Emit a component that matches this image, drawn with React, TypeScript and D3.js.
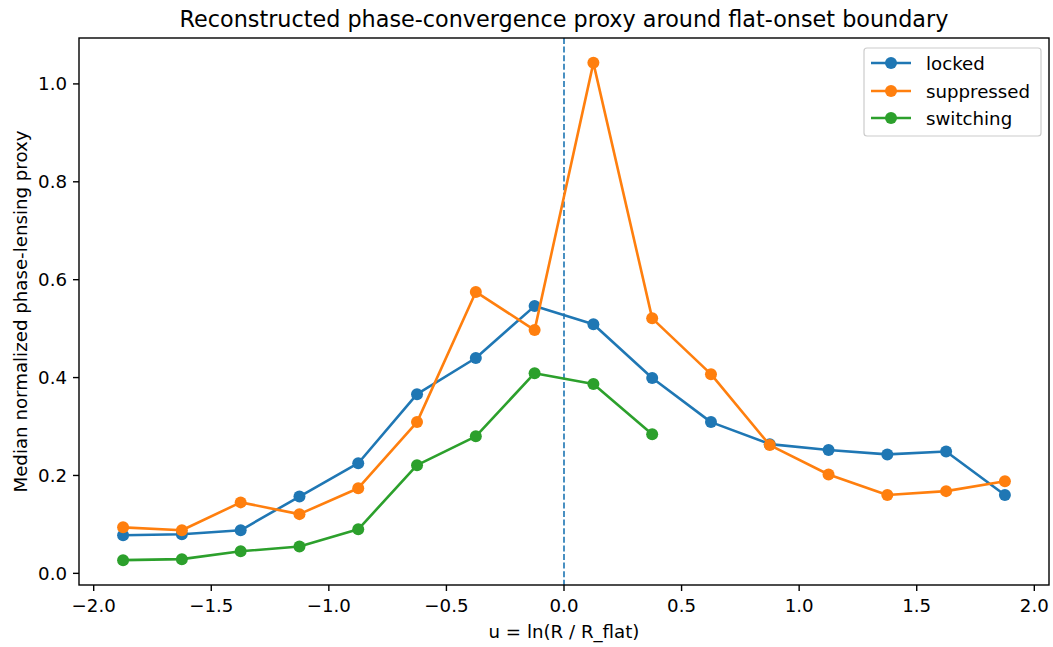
import React from "react";
import * as d3 from "d3";

// Bin centres in u = ln(R / R_flat)
const uCenters = [-1.875, -1.625, -1.375, -1.125, -0.875, -0.625, -0.375, -0.125, 0.125, 0.375, 0.625, 0.875, 1.125, 1.375, 1.625, 1.875];

const lockedValues = [0.078, 0.080, 0.088, 0.157, 0.225, 0.366, 0.440, 0.546, 0.509, 0.399, 0.309, 0.264, 0.252, 0.243, 0.249, 0.160];
const suppressedValues = [0.094, 0.088, 0.145, 0.121, 0.174, 0.309, 0.575, 0.497, 1.043, 0.521, 0.407, 0.262, 0.202, 0.160, 0.168, 0.188];
const switchingValues = [0.027, 0.029, 0.045, 0.055, 0.090, 0.221, 0.280, 0.409, 0.387, 0.284];

const seriesNames = ["locked", "suppressed", "switching"];
const seriesColors = ["#1f77b4", "#ff7f0e", "#2ca02c"];

const xTicks = [-2.0, -1.5, -1.0, -0.5, 0.0, 0.5, 1.0, 1.5, 2.0];
const yTicks = [0.0, 0.2, 0.4, 0.6, 0.8, 1.0];

const W = 1053;
const H = 647;
const M = { left: 79, right: 4, top: 38, bottom: 62 };
const FONT = "DejaVu Sans, sans-serif";
const TICK_FS = 18.2;
const TITLE_FS = 22.3;

export default function App() {
  const series = [lockedValues, suppressedValues, switchingValues];
  const allVals = series.flat();
  const yMin = d3.min(allVals)!;
  const yMax = d3.max(allVals)!;
  const yPad = (yMax - yMin) * 0.05;
  const xPad = (uCenters[uCenters.length - 1] - uCenters[0]) * 0.05;

  const x = d3
    .scaleLinear()
    .domain([uCenters[0] - xPad, uCenters[uCenters.length - 1] + xPad])
    .range([M.left, W - M.right]);
  const y = d3
    .scaleLinear()
    .domain([yMin - yPad, yMax + yPad])
    .range([H - M.bottom, M.top]);

  const line = d3
    .line<[number, number]>()
    .x((d) => x(d[0]))
    .y((d) => y(d[1]));

  const plotW = W - M.left - M.right;
  const plotH = H - M.top - M.bottom;

  const legX = 864;
  const legY = 48;
  const legRows = [63, 91, 118];

  return (
    <svg
      width={W}
      height={H}
      style={{ position: "absolute", left: 0, top: 0, background: "#fff" }}
      fontFamily={FONT}
    >
      <rect x={0} y={0} width={W} height={H} fill="#fff" />
      <text x={M.left + plotW / 2} y={27} textAnchor="middle" fontSize={TITLE_FS} fill="#000">
        Reconstructed phase-convergence proxy around flat-onset boundary
      </text>

      {/* reference boundary at u = 0 */}
      <line
        x1={x(0)}
        x2={x(0)}
        y1={M.top}
        y2={H - M.bottom}
        stroke="#1f77b4"
        strokeOpacity={0.9}
        strokeWidth={1.8}
        strokeDasharray="6,2.6"
      />

      {series.map((vals, i) => {
        const pts = vals.map((v, j) => [uCenters[j], v] as [number, number]);
        return (
          <g key={seriesNames[i]}>
            <path d={line(pts)!} fill="none" stroke={seriesColors[i]} strokeWidth={2.6} strokeLinejoin="round" />
            {pts.map((p, j) => (
              <circle key={j} cx={x(p[0])} cy={y(p[1])} r={6} fill={seriesColors[i]} />
            ))}
          </g>
        );
      })}

      {/* axes frame */}
      <rect x={M.left} y={M.top} width={plotW} height={plotH} fill="none" stroke="#000" strokeWidth={1.4} />

      {xTicks.map((t) => (
        <g key={t}>
          <line x1={x(t)} x2={x(t)} y1={H - M.bottom} y2={H - M.bottom + 6} stroke="#000" strokeWidth={1.4} />
          <text x={x(t)} y={H - M.bottom + 27} textAnchor="middle" fontSize={TICK_FS} fill="#000">
            {t < 0 ? "\u2212" + Math.abs(t).toFixed(1) : t.toFixed(1)}
          </text>
        </g>
      ))}
      {yTicks.map((t) => (
        <g key={t}>
          <line x1={M.left - 6} x2={M.left} y1={y(t)} y2={y(t)} stroke="#000" strokeWidth={1.4} />
          <text x={M.left - 12} y={y(t) + 6.5} textAnchor="end" fontSize={TICK_FS} fill="#000">
            {t.toFixed(1)}
          </text>
        </g>
      ))}

      <text x={M.left + plotW / 2} y={638} textAnchor="middle" fontSize={TICK_FS} fill="#000">
        u = ln(R / R_flat)
      </text>
      <text
        transform={`translate(27, ${M.top + plotH / 2}) rotate(-90)`}
        textAnchor="middle"
        fontSize={TICK_FS}
        fill="#000"
      >
        Median normalized phase-lensing proxy
      </text>

      {/* legend */}
      <rect
        x={legX}
        y={legY}
        width={177}
        height={88}
        rx={3}
        fill="#fff"
        fillOpacity={0.8}
        stroke="#ccc"
        strokeWidth={1.2}
      />
      {seriesNames.map((name, i) => (
        <g key={name}>
          <line x1={871} x2={911} y1={legRows[i]} y2={legRows[i]} stroke={seriesColors[i]} strokeWidth={2.6} />
          <circle cx={891} cy={legRows[i]} r={6} fill={seriesColors[i]} />
          <text x={926} y={legRows[i] + 6.5} fontSize={TICK_FS} fill="#000">
            {name}
          </text>
        </g>
      ))}
    </svg>
  );
}
